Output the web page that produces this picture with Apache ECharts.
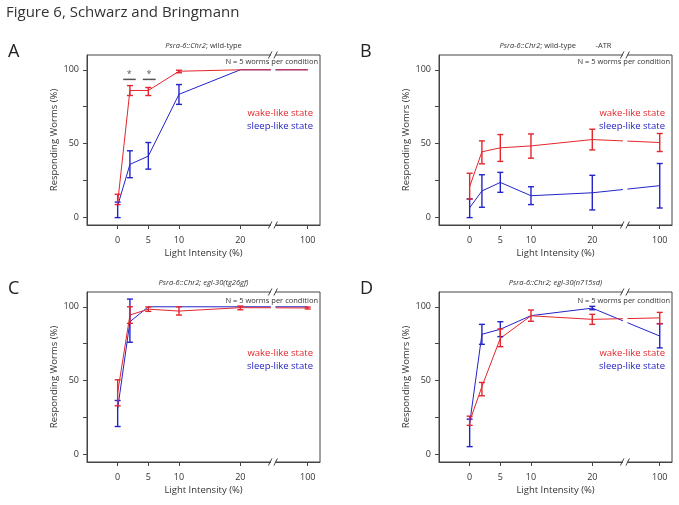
<!DOCTYPE html>
<html><head><meta charset="utf-8">
<script src="https://cdn.jsdelivr.net/npm/echarts@6/dist/echarts.min.js"></script>
<style>html,body{margin:0;padding:0;background:#fff}#c{width:679px;height:505px}</style>
</head><body><div id="c"></div>
<script>
// ---------- data ----------
const intensities = [0, 2, 5, 10, 20, 100];
const tickIntensities = [0, 5, 10, 20, 100];
const tickLabels = ['0', '5', '10', '20', '100'];
const yTickValues = [0, 25, 50, 75, 100];
const yLabelValues = [0, 50, 100];

// Panel A: wild-type
const wakeA    = [10, 86, 86, 99, 100, 100];
const wakeA_lo = [8.8, 82.6, 82.6, 98, 100, 100];
const wakeA_hi = [15.8, 89.3, 88, 99.7, 100, 100];
const sleepA    = [8, 36, 41.6, 83.4, 100, 100];
const sleepA_lo = [0, 27, 32.8, 76.6, 100, 100];
const sleepA_hi = [10.5, 45.2, 50.8, 90, 100, 100];

// Panel B: wild-type -ATR
const wakeB    = [21, 44.5, 47.2, 48.5, 52.8, 50.8];
const wakeB_lo = [12.6, 36.4, 38, 40.2, 45.8, 44.7];
const wakeB_hi = [30, 51.9, 56.2, 56.6, 59.8, 56.9];
const sleepB    = [6.7, 18, 23.8, 14.8, 16.8, 21.6];
const sleepB_lo = [0, 7, 17.1, 8.8, 5.2, 6.5];
const sleepB_hi = [12.6, 29, 30.6, 20.9, 28.6, 36.6];

// Panel C: egl-30(tg26gf)
const wakeC    = [42, 94.4, 98.4, 97.1, 99.4, 99.2];
const wakeC_lo = [33, 88.8, 96.9, 94.4, 98, 98.5];
const wakeC_hi = [50.6, 100, 99.9, 100, 100.5, 99.8];
const sleepC    = [31, 89.9, 100, 100, 100, 100];
const sleepC_lo = [19, 76, 100, 100, 100, 100];
const sleepC_hi = [36.6, 105.2, 100, 100, 100, 100];

// Panel D: egl-30(n715sd)
const wakeD    = [22.5, 46, 78.7, 93.9, 91.5, 92.5];
const wakeD_lo = [19.8, 39.8, 73, 90.2, 88.1, 88.5];
const wakeD_hi = [26, 48.8, 85, 97.8, 94.9, 96.2];
const sleepD    = [21, 81.4, 84.8, 94, 99.1, 80.2];
const sleepD_lo = [5.4, 74.6, 79.8, 94, 98, 72.2];
const sleepD_hi = [24, 88.1, 89.9, 94, 100.3, 88.6];

// significance marks in panel A: [x from, x to] at y level
const sigBars = [[0.9, 2.95], [4.1, 6.2]];
const sigLevel = 93.5;
const sigStarX = [1.9, 5.1];
const sigStarLevel = 98;

const panelTitles = [
  [{t: 'Psra-6::Chr2', i: true}, {t: '; wild-type', i: false}],
  [{t: 'Psra-6::Chr2', i: true}, {t: '; wild-type', i: false}, {t: '          -ATR', i: false}],
  [{t: 'Psra-6::Chr2; egl-30(tg26gf)', i: true}],
  [{t: 'Psra-6::Chr2; egl-30(n715sd)', i: true}]
];
const panelLetters = ['A', 'B', 'C', 'D'];
const yNames = ['Responding Worms (%)', 'Responding Womrs (%)', 'Responding Worms (%)', 'Responding Womrs (%)'];

// ---------- broken-axis transform ----------
const BREAK_POS = 25.4;
function pos(v) { return v <= 20 ? v : 31; }
const tickPositions = tickIntensities.map(pos);

const RED = '#e3262d', BLUE = '#2424c8', FRAME = '#444', TXT = '#333';
const FONT = '"Open Sans", "Noto Sans", sans-serif';

const grids = [
  {left: 87, top: 55, width: 233, height: 170},
  {left: 439, top: 55, width: 233, height: 170},
  {left: 87, top: 292, width: 233, height: 170},
  {left: 439, top: 292, width: 233, height: 170}
];

const panels = [
  [wakeA, wakeA_lo, wakeA_hi, sleepA, sleepA_lo, sleepA_hi],
  [wakeB, wakeB_lo, wakeB_hi, sleepB, sleepB_lo, sleepB_hi],
  [wakeC, wakeC_lo, wakeC_hi, sleepC, sleepC_lo, sleepC_hi],
  [wakeD, wakeD_lo, wakeD_hi, sleepD, sleepD_lo, sleepD_hi]
];

function errRender(color) {
  return function (params, api) {
    const x = api.value(0), lo = api.value(1), hi = api.value(2);
    if (lo === hi) return;
    const p1 = api.coord([x, lo]), p2 = api.coord([x, hi]);
    const w = 3;
    const style = {stroke: color, lineWidth: 1.4, fill: null};
    return {type: 'group', children: [
      {type: 'line', shape: {x1: p1[0], y1: p1[1], x2: p2[0], y2: p2[1]}, style},
      {type: 'line', shape: {x1: p1[0] - w, y1: p1[1], x2: p1[0] + w, y2: p1[1]}, style},
      {type: 'line', shape: {x1: p2[0] - w, y1: p2[1], x2: p2[0] + w, y2: p2[1]}, style}
    ]};
  };
}

const xAxes = [], yAxes = [], series = [];
grids.forEach((g, i) => {
  xAxes.push({
    type: 'value', gridIndex: i, min: -5, max: 33,
    axisLine: {show: true, onZero: false, lineStyle: {color: FRAME, width: 1}},
    axisTick: {show: true, length: 4, customValues: tickPositions, lineStyle: {color: FRAME}},
    axisLabel: {customValues: tickPositions, margin: 11, fontSize: 9, color: TXT, fontFamily: FONT,
      formatter: v => tickLabels[tickPositions.indexOf(v)]},
    splitLine: {show: false},
    name: 'Light Intensity (%)', nameLocation: 'middle', nameGap: 23,
    nameTextStyle: {fontSize: 9.5, color: TXT, fontFamily: FONT}
  });
  yAxes.push({
    type: 'value', gridIndex: i, min: -5, max: 110,
    axisLine: {show: true, onZero: false, lineStyle: {color: FRAME, width: 1}},
    axisTick: {show: true, length: 4, customValues: yTickValues, lineStyle: {color: FRAME}},
    axisLabel: {customValues: yLabelValues, margin: 8, fontSize: 9, color: TXT, fontFamily: FONT},
    splitLine: {show: false},
    name: yNames[i], nameLocation: 'middle', nameGap: 25,
    nameTextStyle: {fontSize: 9.5, color: TXT, fontFamily: FONT}
  });
  const [w, wl, wh, s, sl, sh] = panels[i];
  const xs = intensities.map(pos);
  series.push({
    type: 'line', xAxisIndex: i, yAxisIndex: i, data: xs.map((x, k) => [x, s[k]]),
    symbol: 'none', lineStyle: {color: BLUE, width: 1}, animation: false, z: 3
  });
  series.push({
    type: 'line', xAxisIndex: i, yAxisIndex: i, data: xs.map((x, k) => [x, w[k]]),
    symbol: 'none', lineStyle: {color: RED, width: 1}, animation: false, z: 3
  });
  series.push({
    type: 'custom', xAxisIndex: i, yAxisIndex: i, renderItem: errRender(BLUE), clip: false,
    data: xs.map((x, k) => [x, sl[k], sh[k]]), encode: {x: 0, y: [1, 2]}, animation: false, z: 4
  });
  series.push({
    type: 'custom', xAxisIndex: i, yAxisIndex: i, renderItem: errRender(RED), clip: false,
    data: xs.map((x, k) => [x, wl[k], wh[k]]), encode: {x: 0, y: [1, 2]}, animation: false, z: 4
  });
});

// significance bars/stars in panel A
series.push({
  type: 'custom', xAxisIndex: 0, yAxisIndex: 0, clip: false, animation: false, z: 5,
  data: sigBars.map((b, k) => [b[0], b[1], sigStarX[k]]),
  renderItem: function (params, api) {
    const a = api.coord([api.value(0), sigLevel]), b = api.coord([api.value(1), sigLevel]);
    const s = api.coord([api.value(2), sigStarLevel]);
    return {type: 'group', children: [
      {type: 'line', shape: {x1: a[0], y1: a[1], x2: b[0], y2: b[1]}, style: {stroke: '#555', lineWidth: 1.5}},
      {type: 'text', style: {text: '*', x: s[0], y: s[1] + 2, align: 'center', verticalAlign: 'middle',
        fontSize: 9, fill: '#555', fontFamily: FONT}}
    ]};
  }
});

const chart = echarts.init(document.getElementById('c'), null, {renderer: 'canvas'});
chart.setOption({
  animation: false,
  backgroundColor: '#fff',
  grid: grids.map(g => Object.assign({show: true, borderColor: FRAME, borderWidth: 1, backgroundColor: 'transparent'}, g)),
  xAxis: xAxes, yAxis: yAxes, series: series
});

// ---------- decorations (text + axis break marks) ----------
const graphics = [];
graphics.push({type: 'text', left: 6, top: 5, z: 100,
  style: {text: 'Figure 6, Schwarz and Bringmann', fontSize: 15, fill: TXT, fontFamily: FONT}});
grids.forEach((g, i) => {
  const right = g.left + g.width, bottom = g.top + g.height;
  const bx = chart.convertToPixel({gridIndex: i}, [BREAK_POS, 0])[0];
  graphics.push({type: 'text', x: i % 2 === 0 ? 8 : 360, y: g.top - 3, z: 100,
    style: {text: panelLetters[i], fontSize: 18, fill: '#222', fontFamily: FONT, verticalAlign: 'middle'}});
  const rich = {it: {fontStyle: 'italic', fontSize: 7.5, fill: TXT, fontFamily: FONT},
                rg: {fontSize: 7.5, fill: TXT, fontFamily: FONT}};
  const txt = panelTitles[i].map(p => '{' + (p.i ? 'it' : 'rg') + '|' + p.t + '}').join('');
  graphics.push({type: 'text', x: g.left + g.width / 2, y: g.top - 9, z: 100,
    style: {text: txt, rich: rich, align: 'center', verticalAlign: 'middle'}});
  graphics.push({type: 'text', x: right - 2, y: g.top + (i < 2 ? 7 : 8.5), z: 100,
    style: {text: 'N = 5 worms per condition', fontSize: 7.5, fill: TXT, fontFamily: FONT,
      align: 'right', verticalAlign: 'middle'}});
  const ly = g.top + (i < 2 ? 58 : 61.7);
  graphics.push({type: 'text', x: right - 7, y: ly, z: 100,
    style: {text: 'wake-like state', fontSize: 9.5, fill: RED, fontFamily: FONT, align: 'right', verticalAlign: 'middle'}});
  graphics.push({type: 'text', x: right - 7, y: ly + 13, z: 100,
    style: {text: 'sleep-like state', fontSize: 9.5, fill: BLUE, fontFamily: FONT, align: 'right', verticalAlign: 'middle'}});
  graphics.push({type: 'rect', z: 50, shape: {x: bx - 2.5, y: g.top - 1.5, width: 4.5, height: g.height + 3},
    style: {fill: '#fff'}});
  [g.top, bottom].forEach(yb => {
    graphics.push({type: 'line', z: 60, shape: {x1: bx - 5, y1: yb + 3.5, x2: bx - 1.5, y2: yb - 3.5},
      style: {stroke: FRAME, lineWidth: 1}});
    graphics.push({type: 'line', z: 60, shape: {x1: bx + 0.5, y1: yb + 3.5, x2: bx + 4, y2: yb - 3.5},
      style: {stroke: FRAME, lineWidth: 1}});
  });
});
chart.setOption({graphic: {elements: graphics}});
</script>
</body></html>
